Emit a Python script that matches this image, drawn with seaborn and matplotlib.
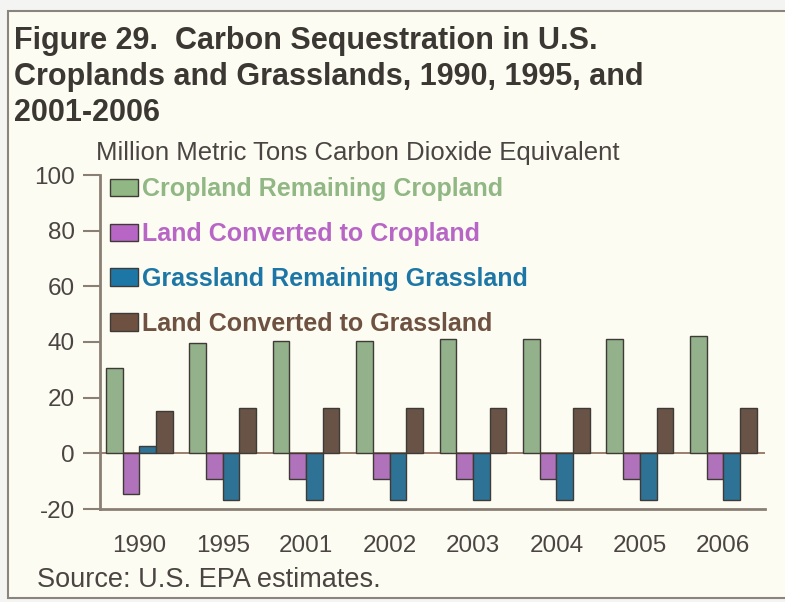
import pandas as pd
import seaborn as sns
import matplotlib
matplotlib.use('Agg')
import matplotlib.pyplot as plt
from matplotlib.patches import Rectangle, Patch

years = ["1990", "1995", "2001", "2002", "2003", "2004", "2005", "2006"]
series = [
    "Cropland Remaining Cropland",
    "Land Converted to Cropland",
    "Grassland Remaining Grassland",
    "Land Converted to Grassland",
]
cropland_remaining = [30.5, 39.5, 40.4, 40.4, 41.0, 41.2, 41.2, 42.3]
land_to_cropland = [-14.7, -9.4, -9.4, -9.4, -9.4, -9.4, -9.4, -9.4]
grassland_remaining = [2.5, -16.8, -16.8, -16.8, -16.8, -16.8, -16.8, -16.8]
land_to_grassland = [15.2, 16.4, 16.4, 16.4, 16.4, 16.4, 16.4, 16.4]
colors = ["#90b784", "#b866c6", "#1d77a6", "#6e5140"]
title_lines = [
    "Figure 29.  Carbon Sequestration in U.S.",
    "Croplands and Grasslands, 1990, 1995, and",
    "2001-2006",
]

values = [cropland_remaining, land_to_cropland, grassland_remaining, land_to_grassland]
rows = []
for name, vals in zip(series, values):
    for yr, v in zip(years, vals):
        rows.append({"year": yr, "series": name, "value": v})
df = pd.DataFrame(rows)

sns.set_style("white")
plt.rcParams['font.family'] = ['Liberation Sans', 'DejaVu Sans']
plt.rcParams['axes.unicode_minus'] = False

text_col = "#4a4542"
axis_col = "#8a7f74"

fig = plt.figure(figsize=(7.85, 6.02), dpi=100)
fig.patch.set_facecolor("#f4f4f2")
# cream panel with a grey border (right side runs off the image)
fig.patches.append(Rectangle((8 / 785, 4 / 602), 1.0, 587 / 602, transform=fig.transFigure,
                             facecolor="#fdfcf3", edgecolor="#8a847e", linewidth=1.5, zorder=0))

ax = fig.add_axes([100 / 785, 93 / 602, 665 / 785, 334 / 602])
ax.set_facecolor("none")
ax.set_zorder(2)

sns.barplot(data=df, x="year", y="value", hue="series", palette=colors,
            edgecolor="#3e3a36", linewidth=1.0, width=0.8, ax=ax, legend=False)

ax.set_ylim(-20, 100)
ax.set_xlim(-0.47, 7.5)
ax.set_yticks([-20, 0, 20, 40, 60, 80, 100])
ax.axhline(0, color="#8c6a55", linewidth=1.2, zorder=0.5)

for s in ["top", "right"]:
    ax.spines[s].set_visible(False)
for s in ["left", "bottom"]:
    ax.spines[s].set_color(axis_col)
    ax.spines[s].set_linewidth(2.0)

ax.tick_params(axis="y", left=True, direction="out", length=12, width=1.5, color=axis_col,
               labelsize=17.5, labelcolor=text_col, pad=6)
ax.tick_params(axis="x", bottom=False, length=0, labelsize=17.5, labelcolor=text_col, pad=19)
ax.set_xlabel("")
ax.set_ylabel("")

handles = [Patch(facecolor=c, edgecolor="#3e3a36", linewidth=1.0) for c in colors]
leg = ax.legend(handles, series, loc="upper left", bbox_to_anchor=(-0.012, 1.045),
                frameon=False, fontsize=18, handlelength=1.15, handleheight=0.7,
                handletextpad=0.15, labelspacing=0.83, borderaxespad=0.3)
for t, c in zip(leg.get_texts(), colors):
    t.set_color(c)
    t.set_fontweight("bold")

for i, line in enumerate(title_lines):
    fig.text(14 / 785, 1 - (49 + 36 * i) / 602, line, ha="left", va="baseline",
             fontsize=22, fontweight="bold", color="#3b3733")
fig.text(96 / 785, 1 - 160 / 602, "Million Metric Tons Carbon Dioxide Equivalent",
         ha="left", va="baseline", fontsize=18.5, color=text_col)
fig.text(37 / 785, 1 - 587 / 602, "Source: U.S. EPA estimates.",
         ha="left", va="baseline", fontsize=19.5, color=text_col)

fig.savefig("out.png", dpi=100, facecolor=fig.get_facecolor())
plt.close()
